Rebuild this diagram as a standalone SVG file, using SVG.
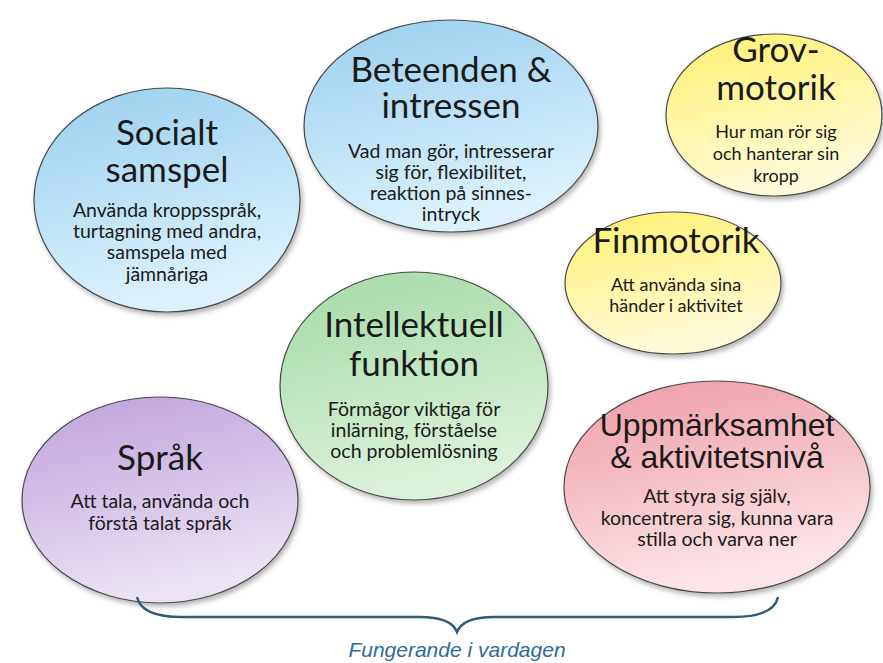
<svg xmlns="http://www.w3.org/2000/svg" width="883" height="663" viewBox="0 0 883 663">
<defs>
<linearGradient id="gBlue" x1="0" y1="0" x2="0.3" y2="1"><stop offset="0" stop-color="#98d0ef"/><stop offset="1" stop-color="#dcf1fb"/></linearGradient>
<linearGradient id="gYellow" x1="0" y1="0" x2="0.3" y2="1"><stop offset="0" stop-color="#fff170"/><stop offset="1" stop-color="#fffbd8"/></linearGradient>
<linearGradient id="gGreen" x1="0" y1="0" x2="0.3" y2="1"><stop offset="0" stop-color="#a3daa6"/><stop offset="1" stop-color="#dcf1da"/></linearGradient>
<linearGradient id="gPurple" x1="0" y1="0" x2="0.3" y2="1"><stop offset="0" stop-color="#bea0da"/><stop offset="1" stop-color="#ebe2f3"/></linearGradient>
<linearGradient id="gPink" x1="0" y1="0" x2="0.3" y2="1"><stop offset="0" stop-color="#ee9aa5"/><stop offset="1" stop-color="#fce5e8"/></linearGradient>
<filter id="sh" x="-10%" y="-10%" width="125%" height="130%"><feDropShadow dx="2" dy="3" stdDeviation="2.5" flood-color="#000" flood-opacity="0.3"/></filter>
</defs>
<style>
.e{stroke:#4a4a4a;stroke-width:1.2;filter:url(#sh)}
.t{font-family:Lato,"Open Sans",sans-serif;fill:#1a1a1a;text-anchor:middle;font-size:35px}
.b{font-family:Lato,"Open Sans",sans-serif;fill:#1a1a1a;text-anchor:middle;font-size:19.5px}
.s{font-size:18px}
.a{font-family:"Liberation Sans",Arial,sans-serif;fill:#1a1a1a;text-anchor:middle;font-size:32px}
.brace{fill:none;stroke:#2f5d78;stroke-width:2.5}
.cap{font-family:"Liberation Sans",Arial,sans-serif;font-style:italic;fill:#2f6b9a;text-anchor:middle;font-size:21px}
</style>
<rect width="883" height="663" fill="#ffffff"/>
<g id="socialt">
<ellipse class="e" cx="167" cy="200" rx="133" ry="112" fill="url(#gBlue)"/>
<text class="t" x="167" y="145">Socialt</text>
<text class="t" x="167" y="182">samspel</text>
<text class="b" x="167" y="217">Använda kroppsspråk,</text>
<text class="b" x="167" y="238">turtagning med andra,</text>
<text class="b" x="167" y="259">samspela med</text>
<text class="b" x="167" y="281">jämnåriga</text>
</g>
<g id="beteenden">
<ellipse class="e" cx="451" cy="126" rx="147" ry="106" fill="url(#gBlue)"/>
<text class="t" x="451" y="82">Beteenden &amp;</text>
<text class="t" x="451" y="118">intressen</text>
<text class="b" x="451" y="158">Vad man gör, intresserar</text>
<text class="b" x="451" y="179">sig för, flexibilitet,</text>
<text class="b" x="451" y="200">reaktion på sinnes-</text>
<text class="b" x="451" y="221">intryck</text>
</g>
<g id="grovmotorik">
<ellipse class="e" cx="774" cy="115" rx="108" ry="81" fill="url(#gYellow)"/>
<text class="t" x="776" y="62">Grov-</text>
<text class="t" x="776" y="100">motorik</text>
<text class="b s" x="776" y="138">Hur man rör sig</text>
<text class="b s" x="776" y="160">och hanterar sin</text>
<text class="b s" x="776" y="182">kropp</text>
</g>
<g id="finmotorik">
<ellipse class="e" cx="673" cy="283" rx="108" ry="71" fill="url(#gYellow)"/>
<text class="t" x="676" y="253" font-size="33">Finmotorik</text>
<text class="b s" x="676" y="291">Att använda sina</text>
<text class="b s" x="676" y="312">händer i aktivitet</text>
</g>
<g id="intellektuell">
<ellipse class="e" cx="414" cy="386" rx="134" ry="114" fill="url(#gGreen)"/>
<text class="t" x="414" y="337" font-size="33.5">Intellektuell</text>
<text class="t" x="414" y="376" font-size="33.5">funktion</text>
<text class="b" x="414" y="416">Förmågor viktiga för</text>
<text class="b" x="414" y="437">inlärning, förståelse</text>
<text class="b" x="414" y="458">och problemlösning</text>
</g>
<g id="sprak">
<ellipse class="e" cx="160" cy="500" rx="138" ry="103" fill="url(#gPurple)"/>
<text class="t" x="160" y="470">Språk</text>
<text class="b" x="160" y="508">Att tala, använda och</text>
<text class="b" x="160" y="530">förstå talat språk</text>
</g>
<g id="uppmarksamhet">
<ellipse class="e" cx="717" cy="487" rx="153" ry="106" fill="url(#gPink)"/>
<text class="a" x="717" y="436">Uppmärksamhet</text>
<text class="a" x="717" y="468">&amp; aktivitetsnivå</text>
<text class="b" x="717" y="503">Att styra sig själv,</text>
<text class="b" x="717" y="525">koncentrera sig, kunna vara</text>
<text class="b" x="717" y="546">stilla och varva ner</text>
</g>
<g id="connectors">
<path class="brace" d="M137,597 C140,611 155,617 182,617 L420,617 C442,617 453,622 457,632 C461,622 472,617 494,617 L733,617 C760,617 775,611 778,597"/>
</g>
<g id="caption">
<text class="cap" x="457" y="657">Fungerande i vardagen</text>
</g>
</svg>
